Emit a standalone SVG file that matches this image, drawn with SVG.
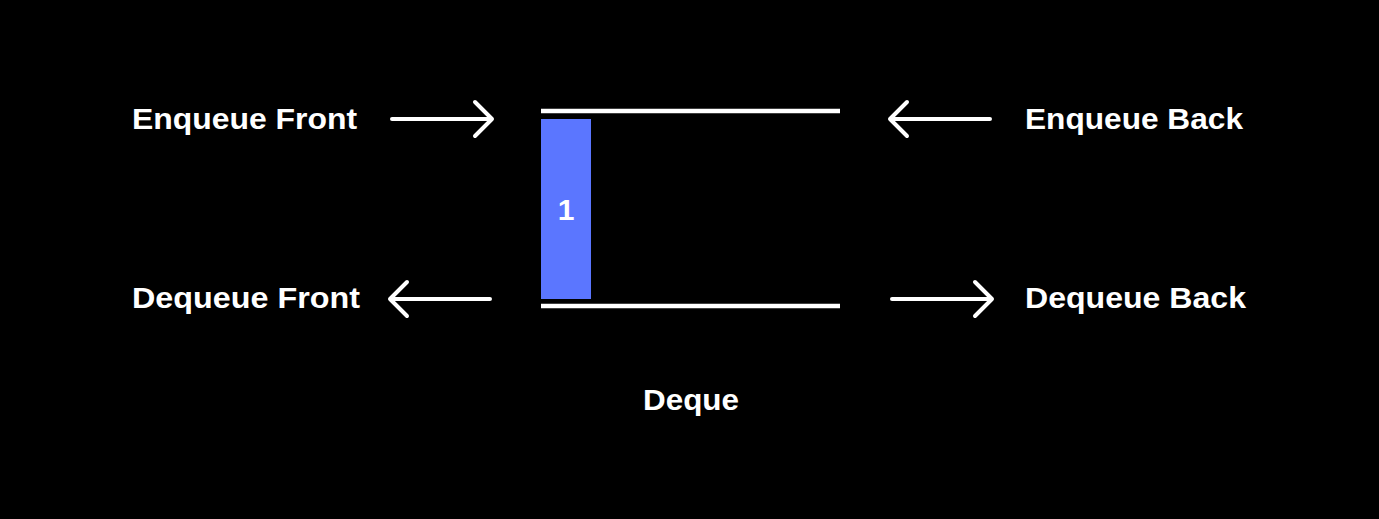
<svg xmlns="http://www.w3.org/2000/svg" width="1379" height="519" viewBox="0 0 1379 519">
<style>
.lbl{font-family:"Liberation Sans",Arial,sans-serif;font-weight:bold;font-size:30px;fill:#fff}
.wall{stroke:#fff;stroke-width:4.5;fill:none}
.arr{stroke:#fff;stroke-width:4;fill:none;stroke-linecap:round;stroke-linejoin:round}
</style>
<rect width="1379" height="519" fill="#000"/>
<g id="deque">
<line class="wall" x1="541" y1="111" x2="840" y2="111"/>
<line class="wall" x1="541" y1="306" x2="840" y2="306"/>
<text class="lbl" x="691" y="410" text-anchor="middle" textLength="96" lengthAdjust="spacingAndGlyphs">Deque</text>
</g>
<g id="item1">
<rect x="541" y="119" width="50" height="180" fill="#5B76FF"/>
<text class="lbl" x="566" y="220" text-anchor="middle">1</text>
</g>
<g id="enqueue-front"><text class="lbl" x="132" y="129" textLength="225" lengthAdjust="spacingAndGlyphs">Enqueue Front</text></g>
<g id="enqueue-back"><text class="lbl" x="1025" y="129" textLength="218" lengthAdjust="spacingAndGlyphs">Enqueue Back</text></g>
<g id="dequeue-front"><text class="lbl" x="132" y="308" textLength="228" lengthAdjust="spacingAndGlyphs">Dequeue Front</text></g>
<g id="dequeue-back"><text class="lbl" x="1025" y="308" textLength="221" lengthAdjust="spacingAndGlyphs">Dequeue Back</text></g>
<g id="connectors">
<path class="arr" d="M392 119H492M475 102L492 119L475 136"/>
<path class="arr" d="M990 119H890M907 102L890 119L907 136"/>
<path class="arr" d="M490 299H390M407 282L390 299L407 316"/>
<path class="arr" d="M892 299H992M975 282L992 299L975 316"/>
</g>
</svg>
